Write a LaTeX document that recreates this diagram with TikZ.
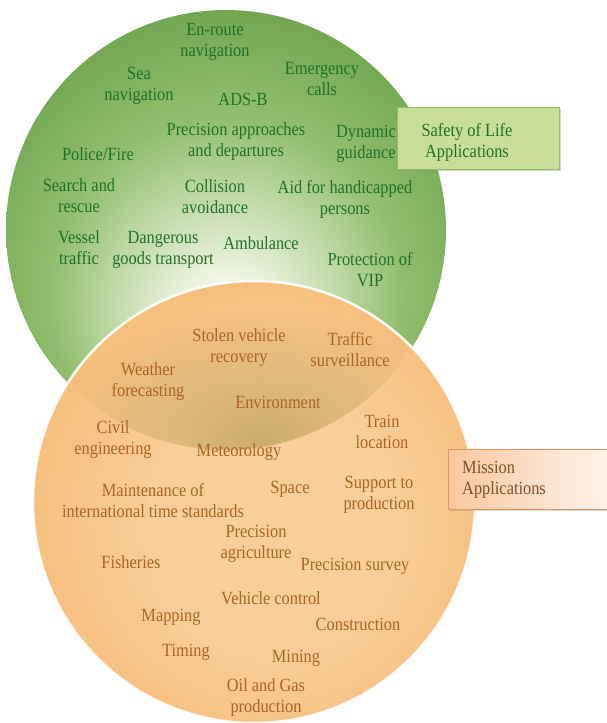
\documentclass[tikz,border=0pt]{standalone}
\usepackage{fontspec}
\setmainfont{Liberation Serif}[FakeStretch=0.88]
\usetikzlibrary{shadows,fadings}
\definecolor{gedge}{RGB}{72,132,46}
\definecolor{gedge2}{RGB}{95,152,64}
\definecolor{gmid}{RGB}{145,190,110}
\definecolor{glight}{RGB}{242,246,230}
\definecolor{gtext}{RGB}{34,112,40}
\definecolor{oedge}{RGB}{236,156,70}
\definecolor{omid}{RGB}{244,180,104}
\definecolor{olight}{RGB}{249,206,154}
\definecolor{otext}{RGB}{170,100,36}
\definecolor{olivec}{RGB}{150,130,50}
\definecolor{sbfill}{RGB}{200,221,152}
\definecolor{sbdraw}{RGB}{150,188,100}
\definecolor{mbfill}{RGB}{249,200,160}
\definecolor{mbdraw}{RGB}{232,148,92}
\definecolor{mtext}{RGB}{130,80,38}
\pgfdeclareradialshading{greenglow}{\pgfpoint{0bp}{-12bp}}{color(0bp)=(glight); color(5bp)=(glight); color(20bp)=(gmid); color(36bp)=(gedge2); color(50bp)=(gedge)}
\pgfdeclareradialshading{orangeglow}{\pgfpoint{3bp}{-4bp}}{color(0bp)=(olight); color(14bp)=(olight); color(36bp)=(omid); color(50bp)=(oedge)}
\tikzfading[name=lensfade, inner color=transparent!0, outer color=transparent!100]
\begin{document}
\begin{tikzpicture}[x=1pt,y=-1pt,
  gt/.style={text=gtext, align=center, inner sep=0pt, font=\fontsize{18.6}{21}\selectfont},
  ot/.style={gt, text=otext}]
\useasboundingbox (0,0) rectangle (607,723);
% green circle
\shade[shading=greenglow] (226,230) circle[radius=220];
% orange circle
\shade[shading=orangeglow] (254,502) circle[radius=221];
% overlap lens (shadow of the green circle)
\begin{scope}
\clip (254,502) circle[radius=221];
\clip (226,230) circle[radius=220];
\fill[olivec, fill opacity=0.45, path fading=lensfade] (262,440) ellipse[x radius=215, y radius=135];
\end{scope}
\draw[white, line width=2.5pt, opacity=0.9] (254,502) circle[radius=221];
% boxes
\node[draw=sbdraw, fill=sbfill, line width=1pt, minimum width=162pt, minimum height=62pt,
  drop shadow={shadow xshift=1.5pt, shadow yshift=-2pt, opacity=0.35}] (safetybox) at (478,138) {};
\node[gt] (safetytxt) at (467,142) {Safety of Life\\Applications};
\node[draw=mbdraw, line width=1pt, left color=mbfill, right color=mbfill!15!white,
  minimum width=172pt, minimum height=60pt, anchor=west,
  drop shadow={shadow xshift=1.5pt, shadow yshift=-2pt, opacity=0.3}] (missionbox) at (448,479) {};
\node[gt, text=mtext, align=left, anchor=west] (missiontxt) at (462,480) {Mission\\Applications};
% green texts
\node[gt] (enroute) at (215,42) {En-route\\navigation};
\node[gt] (sea) at (139,86) {Sea\\navigation};
\node[gt] (adsb) at (243,99) {ADS-B};
\node[gt] (emerg) at (322,79) {Emergency\\calls};
\node[gt] (precapp) at (236,142) {Precision approaches\\and departures};
\node[gt] (dynamic) at (366,144) {Dynamic\\guidance};
\node[gt] (police) at (98,154) {Police/Fire};
\node[gt] (search) at (79,196) {Search and\\rescue};
\node[gt] (collision) at (215,197) {Collision\\avoidance};
\node[gt] (aid) at (345,199) {Aid for handicapped\\persons};
\node[gt] (vessel) at (79,248) {Vessel\\traffic};
\node[gt] (dangerous) at (163,250) {Dangerous\\goods transport};
\node[gt] (ambulance) at (261,243) {Ambulance};
\node[gt] (vip) at (370,270) {Protection of\\VIP};
% orange texts
\node[ot] (stolen) at (239,348) {Stolen vehicle\\recovery};
\node[ot] (traffic) at (350,350) {Traffic\\surveillance};
\node[ot] (weather) at (148,382) {Weather\\forecasting};
\node[ot] (environment) at (278,402) {Environment};
\node[ot] (train) at (382,432) {Train\\location};
\node[ot] (civil) at (113,440) {Civil\\engineering};
\node[ot] (meteo) at (239,452) {Meteorology};
\node[ot] (maint) at (153,501) {Maintenance of\\international time standards};
\node[ot] (space) at (290,489) {Space};
\node[ot] (support) at (379,495) {Support to\\production};
\node[ot] (precagri) at (256,544) {Precision\\agriculture};
\node[ot] (fisheries) at (131,562) {Fisheries};
\node[ot] (precsurvey) at (355,566) {Precision survey};
\node[ot] (vehicle) at (271,598) {Vehicle control};
\node[ot] (mapping) at (171,617) {Mapping};
\node[ot] (construction) at (358,624) {Construction};
\node[ot] (timing) at (186,652) {Timing};
\node[ot] (mining) at (296,658) {Mining};
\node[ot] (oil) at (266,698) {Oil and Gas\\production};
\end{tikzpicture}
\end{document}
